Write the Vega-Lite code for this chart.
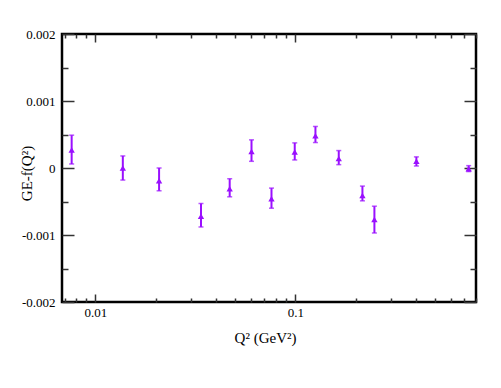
{
  "$schema": "https://vega.github.io/schema/vega-lite/v6.json",
  "width": 414,
  "height": 268,
  "padding": {"left": 62, "top": 34, "right": 25, "bottom": 86},
  "autosize": {"type": "none"},
  "background": "white",
  "config": {
    "view": {"stroke": "black", "strokeWidth": 2.5},
    "axis": {"grid": false, "domain": false, "labelFont": "Liberation Serif, Times New Roman, serif", "labelFontSize": 13, "labelColor": "black", "titleFont": "Liberation Serif, Times New Roman, serif", "titleFontWeight": "normal", "titleColor": "black", "tickColor": "#333", "tickWidth": 1.5}
  },
  "data": {"values": [
    {"q2": 0.0076, "y": 0.00027, "hi": 0.00049, "lo": 0.00006},
    {"q2": 0.0137, "y": 0.0, "hi": 0.00018, "lo": -0.00018},
    {"q2": 0.0208, "y": -0.00019, "hi": 0.0, "lo": -0.00034},
    {"q2": 0.0337, "y": -0.00072, "hi": -0.00053, "lo": -0.00088},
    {"q2": 0.0469, "y": -0.00031, "hi": -0.00016, "lo": -0.00043},
    {"q2": 0.0603, "y": 0.000245, "hi": 0.00042, "lo": 0.0001},
    {"q2": 0.0759, "y": -0.00046, "hi": -0.0003, "lo": -0.0006},
    {"q2": 0.0992, "y": 0.00024, "hi": 0.000375, "lo": 0.00012},
    {"q2": 0.1259, "y": 0.00048, "hi": 0.00062, "lo": 0.00038},
    {"q2": 0.1647, "y": 0.00014, "hi": 0.00026, "lo": 0.00005},
    {"q2": 0.2163, "y": -0.00041, "hi": -0.00027, "lo": -0.00049},
    {"q2": 0.2483, "y": -0.00077, "hi": -0.00057, "lo": -0.00097},
    {"q2": 0.4027, "y": 0.0001, "hi": 0.000166, "lo": 0.00003},
    {"q2": 0.7353, "y": -0.00001, "hi": 0.000035, "lo": -0.000053}
  ]},
  "resolve": {"axis": {"x": "independent", "y": "independent"}},
  "layer": [
    {
      "layer": [
        {
          "mark": {"type": "rule", "color": "#9a10ff", "strokeWidth": 2},
          "encoding": {
            "x": {"field": "q2", "type": "quantitative", "scale": {"type": "log", "domain": [0.0068, 0.8], "nice": false}},
            "y": {"field": "lo", "type": "quantitative", "scale": {"domain": [-0.002, 0.002], "nice": false, "zero": false}},
            "y2": {"field": "hi"}
          }
        },
        {
          "mark": {"type": "tick", "orient": "horizontal", "color": "#9a10ff", "size": 5, "thickness": 1.5},
          "encoding": {"x": {"field": "q2", "type": "quantitative"}, "y": {"field": "lo", "type": "quantitative"}}
        },
        {
          "mark": {"type": "tick", "orient": "horizontal", "color": "#9a10ff", "size": 5, "thickness": 1.5},
          "encoding": {"x": {"field": "q2", "type": "quantitative"}, "y": {"field": "hi", "type": "quantitative"}}
        },
        {
          "mark": {"type": "point", "shape": "triangle-up", "filled": true, "color": "#9a10ff", "opacity": 1, "size": 40},
          "encoding": {
            "x": {"field": "q2", "type": "quantitative", "axis": {"orient": "bottom", "values": [0.01, 0.1], "format": "~g", "tickSize": -8, "labelPadding": 12, "title": "Q² (GeV²)", "titleFontSize": 15, "titleX": 203, "titleAlign": "center", "titleY": 40, "titleBaseline": "alphabetic"}},
            "y": {"field": "y", "type": "quantitative", "axis": {"orient": "left", "values": [-0.002, -0.001, 0, 0.001, 0.002], "labelExpr": "datum.value == 0 ? '0' : (datum.value < 0 ? '-' : '') + format(abs(datum.value), '.3f')", "tickSize": -12, "labelPadding": 19, "title": "GE-f(Q²)", "titleFontSize": 15, "titleAngle": -90, "titleX": -31, "titleY": 139, "titleAlign": "center", "titleBaseline": "alphabetic"}}
          }
        }
      ]
    },
    {
      "mark": {"type": "point", "opacity": 0},
      "encoding": {
        "x": {"field": "q2", "type": "quantitative", "axis": {"orient": "bottom", "values": [0.007, 0.008, 0.009, 0.02, 0.03, 0.04, 0.05, 0.06, 0.07, 0.08, 0.09, 0.2, 0.3, 0.4, 0.5, 0.6, 0.7, 0.8], "labels": false, "tickSize": -4, "title": null}},
        "y": {"field": "y", "type": "quantitative", "axis": {"orient": "left", "values": [-0.0015, -0.0005, 0.0005, 0.0015], "labels": false, "tickSize": -6, "title": null}}
      }
    },
    {
      "mark": {"type": "point", "opacity": 0},
      "encoding": {
        "x": {"field": "q2", "type": "quantitative", "axis": {"orient": "top", "values": [0.01, 0.1], "labels": false, "tickSize": -8, "title": null}},
        "y": {"field": "y", "type": "quantitative", "axis": {"orient": "right", "values": [-0.002, -0.001, 0, 0.001, 0.002], "labels": false, "tickSize": -12, "title": null}}
      }
    },
    {
      "mark": {"type": "point", "opacity": 0},
      "encoding": {
        "x": {"field": "q2", "type": "quantitative", "axis": {"orient": "top", "values": [0.007, 0.008, 0.009, 0.02, 0.03, 0.04, 0.05, 0.06, 0.07, 0.08, 0.09, 0.2, 0.3, 0.4, 0.5, 0.6, 0.7, 0.8], "labels": false, "tickSize": -4, "title": null}},
        "y": {"field": "y", "type": "quantitative", "axis": {"orient": "right", "values": [-0.0015, -0.0005, 0.0005, 0.0015], "labels": false, "tickSize": -6, "title": null}}
      }
    }
  ]
}
